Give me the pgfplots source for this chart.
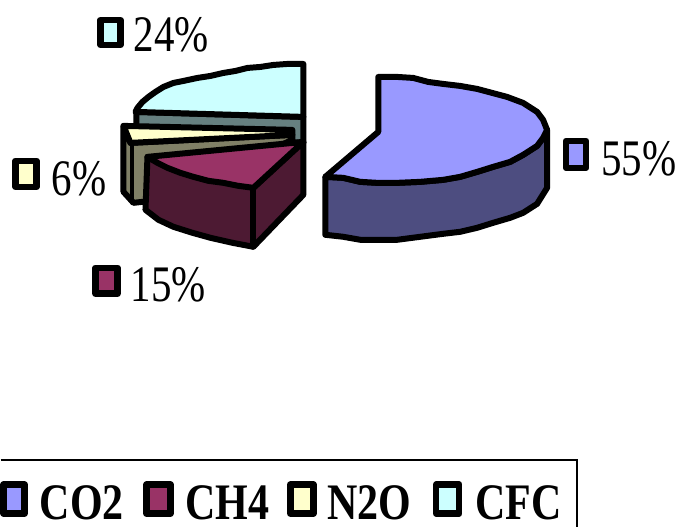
\documentclass[border=0pt]{standalone}
\usepackage{pgfplots}
\pgfplotsset{compat=1.18}
\usepackage{fontspec}
\setmainfont{Liberation Serif}
\definecolor{co2}{HTML}{9999FF}
\definecolor{co2side}{HTML}{4D4D80}
\definecolor{ch4}{HTML}{993366}
\definecolor{ch4side}{HTML}{4D1A33}
\definecolor{n2o}{HTML}{FFFFCC}
\definecolor{n2oside}{HTML}{808066}
\definecolor{cfc}{HTML}{CCFFFF}
\definecolor{cfcside}{HTML}{668080}
\newcommand{\lab}[1]{\scalebox{1}[1.25]{\fontsize{41}{45}\selectfont #1}}
\newcommand{\legtxt}[1]{\scalebox{1}[1.22]{\fontsize{42}{46}\selectfont\bfseries #1}}
\begin{document}
\begin{tikzpicture}
\begin{axis}[
  width=680pt, height=527pt, scale only axis,
  xmin=0, xmax=680, ymin=0, ymax=527, y dir=reverse,
  hide axis, clip=false,
  every axis plot/.append style={draw=black, line width=6pt, line join=round, line cap=round},
]
\path (axis cs:0,0) rectangle (axis cs:680,527);

% CFC slice
\addplot[fill=cfcside] coordinates {(136,112)(303,117)(303,143)(136,135)} --cycle;
\addplot[fill=cfc] coordinates {(303,64)(287,64)(273,65)(260,67)(247,68)(235,71)(223,73)(210,76)(197,78)(183,81)(173,83)(163,87)(155,92)(148,97)(142,102)(137,108)(135,112)(303,117)} --cycle;

% N2O slice
\addplot[fill=n2oside] coordinates {(123,126)(123,192)(133,203)(160,200)(292,140)(292,135)(130,143)} --cycle;
\addplot[draw=black, line width=4pt] coordinates {(132,143)(132,203)};
\addplot[fill=n2o] coordinates {(123,126)(292,130)(292,135)(130,143)} --cycle;

% CH4 slice
\addplot[fill=ch4side] coordinates {(147,157)(145,210)(158,220)(173,227)(192,233)(210,238)(232,243)(253,247)(303,195)(303,142)(253,188)} --cycle;
\addplot[fill=ch4] coordinates {(303,142)(147,157)(157,163)(167,168)(180,173)(193,177)(208,181)(223,183)(238,186)(253,188)} --cycle;
\addplot[draw=black] coordinates {(253,188)(253,247)};

% CO2 slice
\addplot[fill=co2side] coordinates {(325,177)(325,235)(343,237)(360,240)(377,240)(397,240)(420,237)(443,234)(460,232)(477,228)(493,223)(510,218)(523,213)(537,204)(547,188)(547,130)(543,138)(537,146)(523,155)(510,162)(493,167)(477,172)(460,177)(443,180)(420,182)(397,183)(377,183)(360,182)(343,178)} --cycle;
\addplot[fill=co2] coordinates {(378,77)(397,77)(413,78)(428,82)(443,84)(460,86)(477,89)(492,93)(507,97)(523,103)(537,112)(543,120)(547,130)(543,138)(537,146)(523,155)(510,162)(493,167)(477,172)(460,177)(443,180)(420,182)(397,183)(377,183)(360,182)(343,178)(325,177)(378,132)} --cycle;

% data label keys
\addplot[fill=cfc, line width=6.5pt] coordinates {(100,20)(120,20)(120,45)(100,45)} --cycle;
\addplot[fill=co2, line width=6.5pt] coordinates {(566,141)(586,141)(586,168)(566,168)} --cycle;
\addplot[fill=n2o, line width=6.5pt] coordinates {(15,161)(36,161)(36,187)(15,187)} --cycle;
\addplot[fill=ch4, line width=6.5pt] coordinates {(95,268)(117,268)(117,294)(95,294)} --cycle;

\node[anchor=base west, inner sep=0pt] at (axis cs:133,52) {\lab{24\%}};
\node[anchor=base west, inner sep=0pt] at (axis cs:601,176) {\lab{55\%}};
\node[anchor=base west, inner sep=0pt] at (axis cs:51,196) {\lab{6\%}};
\node[anchor=base west, inner sep=0pt] at (axis cs:130,302) {\lab{15\%}};

% legend frame and entries
\addplot[line width=1.2pt, line join=miter, line cap=butt] coordinates {(0,460.5)(577,460.5)(577,527)};
\addplot[fill=co2, line width=6.5pt] coordinates {(3,485)(24,485)(24,514)(3,514)} --cycle;
\addplot[fill=ch4, line width=6.5pt] coordinates {(146,485)(170,485)(170,514)(146,514)} --cycle;
\addplot[fill=n2o, line width=6.5pt] coordinates {(290,485)(313,485)(313,514)(290,514)} --cycle;
\addplot[fill=cfc, line width=6.5pt] coordinates {(436,485)(459,485)(459,514)(436,514)} --cycle;
\node[anchor=base west, inner sep=0pt] at (axis cs:39,520) {\legtxt{CO2}};
\node[anchor=base west, inner sep=0pt] at (axis cs:185,520) {\legtxt{CH4}};
\node[anchor=base west, inner sep=0pt] at (axis cs:327,520) {\legtxt{N2O}};
\node[anchor=base west, inner sep=0pt] at (axis cs:475,520) {\legtxt{CFC}};
\end{axis}
\end{tikzpicture}
\end{document}
